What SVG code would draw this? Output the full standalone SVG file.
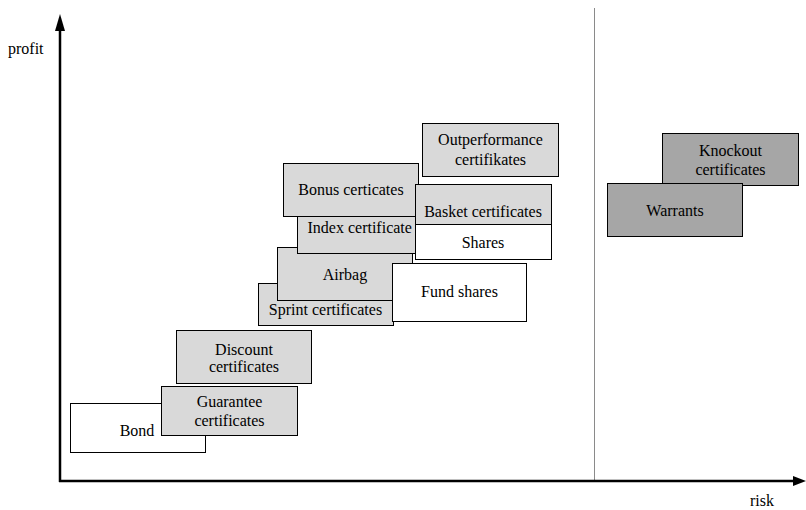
<svg xmlns="http://www.w3.org/2000/svg" width="806" height="510" viewBox="0 0 806 510">
<style>
.t{font-size:16px;fill:#000}
.c{text-anchor:middle}
.box rect{stroke:#000;stroke-width:1}
.lt rect{fill:#d9d9d9}
.wh rect{fill:#fff}
.dk rect{fill:#a6a6a6}
</style>
<rect width="806" height="510" fill="#fff"/>
<g id="connectors">
<line x1="594.5" y1="8" x2="594.5" y2="481" stroke="#8a8a8a" stroke-width="1"/>
<line x1="60" y1="482" x2="60" y2="28" stroke="#000" stroke-width="2.5"/>
<polygon points="60,14 55,31 65,31" fill="#000"/>
<line x1="59" y1="481" x2="795" y2="481" stroke="#000" stroke-width="2.5"/>
<polygon points="806,481 793,476 793,486" fill="#000"/>
</g>
<g font-family="'Liberation Serif', 'Times New Roman', Times, 'DejaVu Serif', serif">
<text class="t" x="8" y="54">profit</text>
<text class="t" x="750" y="506">risk</text>
<g id="bond" class="box wh"><rect x="70.5" y="403.5" width="135" height="49"/><text class="t c" x="137" y="436">Bond</text></g>
<g id="guarantee" class="box lt"><rect x="161.5" y="386.5" width="136" height="49"/><text class="t c" x="229.5" y="407">Guarantee</text><text class="t c" x="229.5" y="426">certificates</text></g>
<g id="discount" class="box lt"><rect x="176.5" y="330.5" width="135" height="53"/><text class="t c" x="244" y="355">Discount</text><text class="t c" x="244" y="372">certificates</text></g>
<g id="sprint" class="box lt"><rect x="258.5" y="283.5" width="135" height="42"/><text class="t c" x="325.5" y="315">Sprint certificates</text></g>
<g id="airbag" class="box lt"><rect x="277.5" y="247.5" width="135" height="53"/><text class="t c" x="345" y="280">Airbag</text></g>
<g id="index" class="box lt"><rect x="297.5" y="203.5" width="135" height="50"/><text class="t" x="307.5" y="233">Index certificate</text></g>
<g id="bonus" class="box lt"><rect x="283.5" y="163.5" width="135" height="53"/><text class="t c" x="351" y="195">Bonus certicates</text></g>
<g id="basket" class="box lt"><rect x="415.5" y="184.5" width="136" height="40"/><text class="t c" x="483" y="217">Basket certificates</text></g>
<g id="shares" class="box wh"><rect x="415.5" y="224.5" width="136" height="35"/><text class="t c" x="483" y="248">Shares</text></g>
<g id="fund" class="box wh"><rect x="392.5" y="263.5" width="134" height="58"/><text class="t c" x="459.5" y="297">Fund shares</text></g>
<g id="outperformance" class="box lt"><rect x="422.5" y="123.5" width="136" height="53"/><text class="t c" x="490.5" y="145">Outperformance</text><text class="t c" x="490.5" y="165">certifikates</text></g>
<g id="knockout" class="box dk"><rect x="662.5" y="133.5" width="136" height="52"/><text class="t c" x="730.5" y="156">Knockout</text><text class="t c" x="730.5" y="175">certificates</text></g>
<g id="warrants" class="box dk"><rect x="607.5" y="183.5" width="135" height="53"/><text class="t c" x="675" y="216">Warrants</text></g>
</g>
</svg>
